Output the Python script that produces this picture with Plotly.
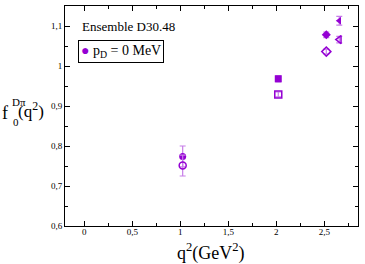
import plotly.graph_objects as go

# data
q2_pts = [1.025, 2.02, 2.52, 2.655]
f0_filled = [0.774, 0.968, 1.078, 1.113]
err_filled = [0.026, 0.008, 0.007, 0.011]
f0_open = [0.751, 0.929, 1.036, 1.066]
err_open = [0.026, 0.006, 0.006, 0.008]
sym_filled = ["circle", "square", "diamond", "triangle-left"]
sym_open = ["circle-open", "square-open", "diamond-open", "triangle-left-open"]

xtick_vals = [0, 0.5, 1, 1.5, 2, 2.5]
xtick_text = ["0", "0,5", "1", "1,5", "2", "2,5"]
ytick_vals = [0.6, 0.7, 0.8, 0.9, 1.0, 1.1]
ytick_text = ["0,6", "0,7", "0,8", "0,9", "1", "1,1"]

purple = "#9400D3"
errc = "#c77ee8"
serif = "'Times New Roman', 'Liberation Serif', 'DejaVu Serif', serif"

fig = go.Figure()
for i in range(len(q2_pts)):
    fig.add_trace(go.Scatter(
        x=[q2_pts[i]], y=[f0_filled[i]], mode="markers",
        marker=dict(symbol=sym_filled[i], size=7, color=purple),
        error_y=dict(type="data", array=[err_filled[i]], color=errc, thickness=1.2, width=3),
        showlegend=False))
    fig.add_trace(go.Scatter(
        x=[q2_pts[i]], y=[f0_open[i]], mode="markers",
        marker=dict(symbol=sym_open[i], size=7, color=purple, line=dict(width=1.5, color="#a030e0")),
        error_y=dict(type="data", array=[err_open[i]], color=errc, thickness=1.2, width=3),
        showlegend=False))

axis_common = dict(showline=True, linecolor="black", linewidth=1, mirror="allticks",
                   ticks="inside", ticklen=5, tickcolor="black", showgrid=False, zeroline=False,
                   automargin=False,
                   tickfont=dict(family=serif, size=9, color="black"))

fig.update_xaxes(range=[-0.2, 2.85], tickvals=xtick_vals, ticktext=xtick_text,
                 ticklabelstandoff=-3,
                 minor=dict(ticks="inside", ticklen=3, dtick=0.25, tick0=0, tickcolor="black"),
                 **axis_common)
fig.update_yaxes(range=[0.6, 1.15], tickvals=ytick_vals, ticktext=ytick_text,
                 minor=dict(ticks="inside", ticklen=3, dtick=0.05, tick0=0.6, tickcolor="black"),
                 **axis_common)

def ann(x, y, text, size, xanchor="left", yanchor="middle", **kw):
    fig.add_annotation(xref="paper", yref="paper", x=(x - 65) / 293, y=(226 - y) / 220,
                       xanchor=xanchor, yanchor=yanchor, text=text, showarrow=False,
                       font=dict(family=serif, size=size, color="black"), **kw)

ann(80, 26, "Ensemble D30.48", 13)
ann(78, 51, "<span style='color:#9400D3'>●</span> p<sub>D</sub> = 0 MeV", 14,
    bordercolor="black", borderwidth=1, borderpad=2, bgcolor="white")
# y-axis label: f with stacked Dπ / 0
ann(0, 113, "f", 18)
ann(10, 102, "Dπ", 11)
ann(11, 122, "0", 11)
ann(16, 110, "(q<sup>2</sup>)", 17)
# x-axis title
ann(211, 252, "q<sup>2</sup>(GeV<sup>2</sup>)", 18, xanchor="center")

fig.update_layout(width=365, height=264, margin=dict(l=65, r=7, t=6, b=38),
                  plot_bgcolor="white", paper_bgcolor="white", showlegend=False,
                  font=dict(family=serif))

fig.write_html("out.html", config={"displayModeBar": False},
               post_script="document.body.style.margin='0';")
